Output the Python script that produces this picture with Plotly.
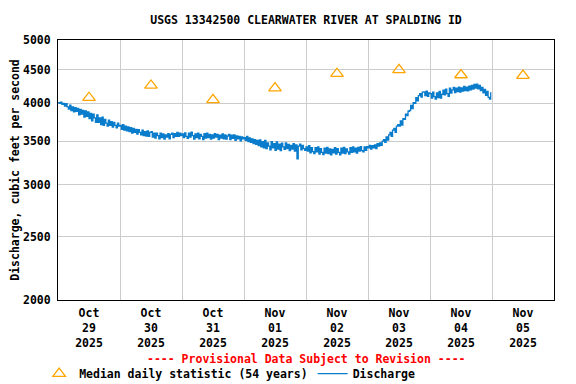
import pandas as pd
import plotly.graph_objects as go

# ---- data ----
title = "USGS 13342500 CLEARWATER RIVER AT SPALDING ID"
start = "2025-10-29 00:00"

oct29 = [4010, 4000, 4015, 3985, 4000, 3960, 3995, 3950, 3920, 3975, 3900, 3950,
         3880, 3940, 3890, 3930, 3840, 3915, 3850, 3900, 3810, 3895, 3820, 3880,
         3790, 3860, 3760, 3850, 3800, 3740, 3840, 3740, 3800, 3710, 3810, 3700,
         3780, 3730, 3690, 3770, 3700, 3750, 3680, 3740, 3700, 3670, 3730, 3690]
oct30 = [3700, 3650, 3710, 3640, 3690, 3630, 3680, 3620, 3670, 3600, 3660, 3610,
         3650, 3590, 3645, 3610, 3580, 3640, 3570, 3620, 3565, 3630, 3560, 3610,
         3620, 3550, 3600, 3540, 3600, 3570, 3530, 3600, 3545, 3590, 3525, 3580,
         3550, 3595, 3530, 3585, 3600, 3545, 3595, 3560, 3610, 3560, 3600, 3570]
oct31 = [3590, 3545, 3605, 3560, 3535, 3600, 3550, 3615, 3570, 3525, 3590, 3545,
         3600, 3530, 3585, 3560, 3520, 3595, 3540, 3600, 3545, 3585, 3525, 3580,
         3540, 3595, 3550, 3585, 3520, 3575, 3540, 3590, 3530, 3580, 3525, 3565,
         3585, 3520, 3575, 3535, 3580, 3510, 3565, 3530, 3560, 3505, 3555, 3530]
nov01 = [3545, 3510, 3560, 3495, 3540, 3485, 3530, 3470, 3520, 3460, 3510, 3445,
         3515, 3430, 3495, 3420, 3510, 3410, 3480, 3440, 3395, 3495, 3420, 3470,
         3390, 3490, 3405, 3465, 3385, 3475, 3430, 3400, 3480, 3410, 3460, 3385,
         3450, 3405, 3470, 3380, 3455, 3290, 3440, 3465, 3395, 3450, 3410, 3390]
nov02 = [3430, 3380, 3445, 3360, 3420, 3375, 3350, 3420, 3370, 3430, 3345, 3410,
         3365, 3340, 3415, 3355, 3425, 3350, 3405, 3335, 3400, 3360, 3420, 3345,
         3410, 3365, 3335, 3415, 3355, 3425, 3350, 3405, 3370, 3345, 3420, 3365,
         3430, 3370, 3415, 3355, 3425, 3380, 3435, 3385, 3370, 3430, 3390, 3435]
nov03 = [3420, 3450, 3405, 3445, 3420, 3455, 3410, 3470, 3440, 3480, 3450, 3500,
         3520, 3485, 3555, 3515, 3580, 3610, 3560, 3640, 3660, 3610, 3690, 3710,
         3690, 3760, 3705, 3790, 3780, 3850, 3830, 3890, 3900, 3970, 3925, 4010,
         4000, 4080, 4035, 4110, 4140, 4090, 4160, 4165, 4110, 4175, 4100, 4150]
nov04 = [4140, 4075, 4160, 4095, 4060, 4150, 4080, 4170, 4075, 4130, 4190, 4120,
         4205, 4140, 4100, 4220, 4145, 4195, 4230, 4155, 4220, 4170, 4235, 4160,
         4225, 4175, 4245, 4185, 4235, 4180, 4250, 4195, 4260, 4205, 4275, 4220,
         4280, 4210, 4260, 4185, 4230, 4150, 4200, 4115, 4170, 4085, 4060, 4160]

discharge = oct29 + oct30 + oct31 + nov01 + nov02 + nov03 + nov04

median_days = ["2025-10-29 12:00", "2025-10-30 12:00", "2025-10-31 12:00",
               "2025-11-01 12:00", "2025-11-02 12:00", "2025-11-03 12:00",
               "2025-11-04 12:00", "2025-11-05 12:00"]
median_values = [4080, 4260, 4050, 4220, 4440, 4500, 4420, 4410]

tick_labels = ["Oct<br>29<br>2025", "Oct<br>30<br>2025", "Oct<br>31<br>2025",
               "Nov<br>01<br>2025", "Nov<br>02<br>2025", "Nov<br>03<br>2025",
               "Nov<br>04<br>2025", "Nov<br>05<br>2025"]
y_ticks = [2000, 2500, 3000, 3500, 4000, 4500, 5000]

times = pd.date_range(start, periods=len(discharge), freq="30min")

FONT = "DejaVu Sans Mono"
fnt = dict(family=FONT, size=11.5, color="black", weight="bold")

# the page body adds an 8px margin, so the figure is 8px smaller each way
W, H = 568, 376

fig = go.Figure()
fig.add_trace(go.Scatter(
    x=median_days, y=median_values, mode="markers",
    name="Median daily statistic (54 years)",
    marker=dict(symbol="triangle-up-open", size=11, color="#FFA500",
                line=dict(width=1.3, color="#FFA500")),
))
fig.add_trace(go.Scatter(
    x=times, y=discharge, mode="lines", name="Discharge",
    line=dict(color="#0a7ccc", width=1.3, shape="hv"),
))

fig.update_layout(
    width=W, height=H,
    margin=dict(l=50, r=22, t=32, b=84, autoexpand=False),
    paper_bgcolor="white", plot_bgcolor="white",
    font=fnt,
    title=dict(text=title, x=0.5, xref="paper", xanchor="center",
               y=1 - 12 / H, yanchor="middle",
               font=dict(family=FONT, size=11.5, color="black", weight="bold")),
    showlegend=True,
    legend=dict(orientation="h", x=-0.038, xanchor="left", y=-0.283,
                yanchor="middle", font=fnt, bgcolor="rgba(0,0,0,0)",
                itemwidth=30, tracegroupgap=0),
    annotations=[dict(text="---- Provisional Data Subject to Revision ----",
                      x=0.5, xref="paper", y=-0.227, yref="paper",
                      showarrow=False, xanchor="center", yanchor="middle",
                      font=dict(family=FONT, size=11.5, color="red", weight="bold"))],
)

fig.update_xaxes(
    type="date", automargin=False,
    range=["2025-10-29 00:00", "2025-11-06 00:00"],
    tickvals=median_days, ticktext=tick_labels,
    ticks="", showgrid=False, tickfont=fnt, ticklabelstandoff=2,
    minor=dict(dtick=86400000, tick0="2025-10-29", showgrid=True,
               gridcolor="#cccccc", gridwidth=1, ticks=""),
    showline=True, linecolor="black", linewidth=1, mirror=True,
    zeroline=False,
)
fig.update_yaxes(
    type="log", automargin=False,
    range=[3.30103, 3.69897],
    tickvals=y_ticks, ticktext=[str(v) for v in y_ticks],
    ticks="", showgrid=True, gridcolor="#cccccc", gridwidth=1,
    tickfont=fnt, ticklabelstandoff=4,
    title=dict(text="Discharge, cubic feet per second", font=fnt, standoff=4),
    showline=True, linecolor="black", linewidth=1, mirror=True,
    zeroline=False,
)

fig.write_html("out.html")
